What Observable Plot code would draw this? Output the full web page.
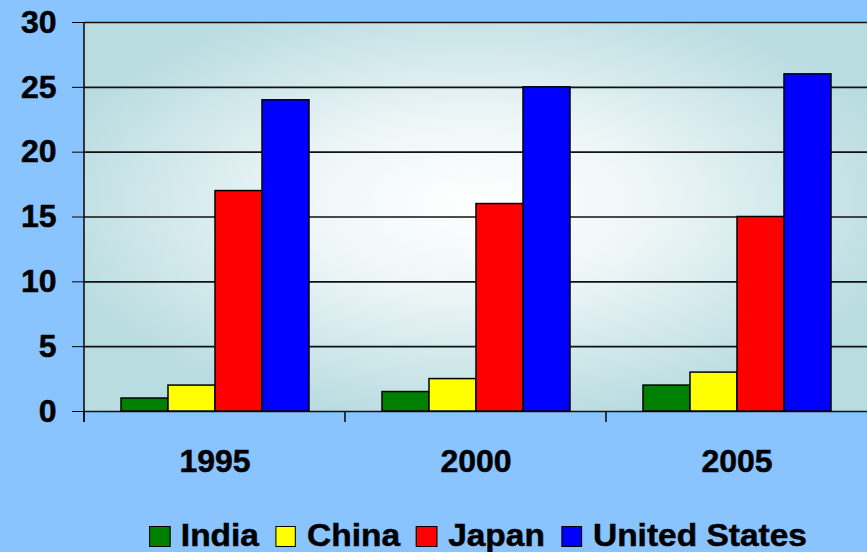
<!DOCTYPE html>
<html>
<head>
<meta charset="utf-8">
<script src="https://cdn.jsdelivr.net/npm/d3@7"></script>
<script src="https://cdn.jsdelivr.net/npm/@observablehq/plot@0.6"></script>
<style>
  html, body { margin: 0; padding: 0; background: #89C4FF; }
  #wrap { position: relative; width: 867px; height: 552px; overflow: hidden; background: #89C4FF;
          font-family: 'Liberation Sans', Arial, sans-serif; }
  #legend { position: absolute; left: 149px; top: 522px; height: 28px; display: flex; align-items: center;
            transform: scaleX(1.08); transform-origin: 0 50%; white-space: nowrap; }
  .item { display: flex; align-items: center; margin-right: 15px; }
  .sw { width: 19.5px; height: 21px; box-sizing: border-box; border: 1.5px solid #000; margin-right: 10px; }
  .lb { font-size: 31px; line-height: 28px; font-weight: bold; color: #000;
        -webkit-text-stroke: 0.5px #000; }
  #chart svg text { font-size: 32px; font-weight: bold; stroke: #000; stroke-width: 0.5px; }
</style>
</head>
<body>
<div id="wrap"><div id="chart"></div><div id="legend"></div></div>
<script>
const years = ["1995", "2000", "2005"];
const countries = ["India", "China", "Japan", "United States"];
const india = [1, 1.5, 2];
const china = [2, 2.5, 3];
const japan = [17, 16, 15];
const unitedStates = [24, 25, 26];
const colors = ["#008000", "#FFFF00", "#FF0000", "#0000FF"];
const yTicks = [0, 5, 10, 15, 20, 25, 30];

const series = [india, china, japan, unitedStates];
const data = years.flatMap((yr, i) => countries.map((c, j) => ({year: yr, country: c, value: series[j][i]})));

const chart = Plot.plot({
  width: 867, height: 500,
  marginLeft: 84, marginRight: 0, marginTop: 22, marginBottom: 89,
  style: {background: "transparent", fontFamily: "'Liberation Sans', Arial, sans-serif",
          fontSize: "32px", fontWeight: "bold", color: "#000", overflow: "visible"},
  facet: {data, x: "year"},
  fx: {domain: years, padding: 0, axis: "bottom", tickSize: 0, tickPadding: 38, label: null},
  x: {domain: countries, paddingInner: 0, paddingOuter: 0.73, axis: null},
  y: {domain: [0, 30], ticks: yTicks, tickSize: 12, tickPadding: 16, label: null},
  color: {domain: countries, range: colors},
  marks: [
    Plot.ruleY(yTicks, {stroke: "#111", strokeWidth: 1.6}),
    Plot.barY(data, {x: "country", y: "value", fill: "country", stroke: "#000", strokeWidth: 1.5})
  ]
});
document.getElementById("chart").appendChild(chart);

// plot-area background and axis decorations derived from the scales
const svg = d3.select(chart);
const ys = chart.scale("y");
let fxs = null;
try { fxs = chart.scale("fx"); } catch (e) { fxs = null; }
const xr = fxs && fxs.range ? fxs.range : [84, 867];
const yr = ys.range;
const y0 = Math.max(yr[0], yr[1]), yTop = Math.min(yr[0], yr[1]);

const defs = svg.insert("defs", ":first-child");
const g = defs.append("radialGradient").attr("id", "plotbg")
  .attr("cx", 0.5).attr("cy", 0.47).attr("r", 0.56);
g.append("stop").attr("offset", "0%").attr("stop-color", "#FFFFFF");
g.append("stop").attr("offset", "40%").attr("stop-color", "#EDF6F7");
g.append("stop").attr("offset", "100%").attr("stop-color", "#B9DCE0");

svg.insert("rect", "defs + *")
  .attr("x", xr[0]).attr("y", yTop)
  .attr("width", xr[1] - xr[0]).attr("height", y0 - yTop)
  .attr("fill", "url(#plotbg)");

const deco = svg.append("g").attr("stroke", "#111").attr("stroke-width", 1.6);
deco.append("line").attr("x1", xr[0]).attr("x2", xr[0]).attr("y1", yTop).attr("y2", y0 + 11);
const starts = fxs && fxs.apply ? years.map(v => fxs.apply(v)) : years.map((v, i) => xr[0] + i * (xr[1] - xr[0]) / years.length);
starts.forEach(x => deco.append("line").attr("x1", x).attr("x2", x).attr("y1", y0).attr("y2", y0 + 11));

// legend
const legend = d3.select("#legend");
countries.forEach((c, i) => {
  const it = legend.append("div").attr("class", "item");
  it.append("div").attr("class", "sw").style("background", colors[i]);
  it.append("span").attr("class", "lb").text(c);
});
</script>
</body>
</html>
